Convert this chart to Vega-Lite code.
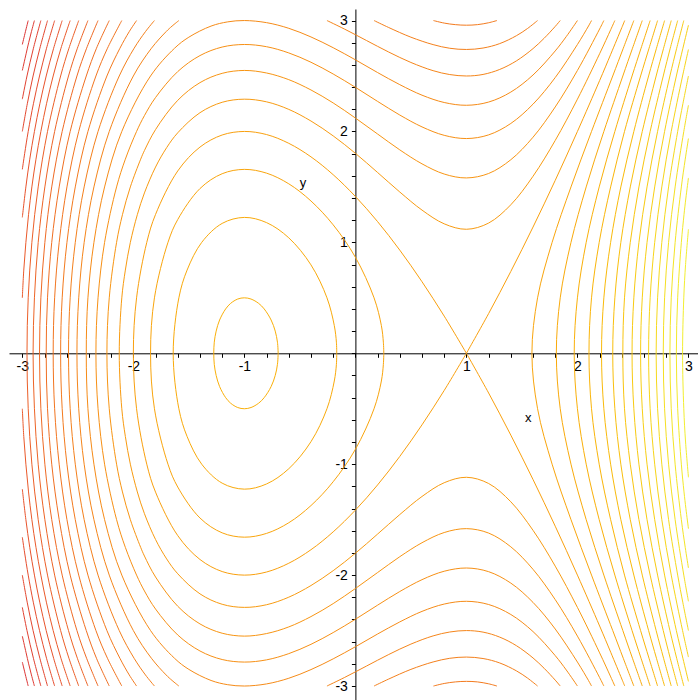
{
"$schema": "https://vega.github.io/schema/vega-lite/v6.json",
"autosize": {"type": "none"},
"width": 689, "height": 691,
"padding": {"left": 9, "top": 9, "right": 0, "bottom": 0},
"background": "white",
"config": {"view": {"stroke": null}, "axis": {"grid": false, "domainColor": "#000", "tickColor": "#000", "labelColor": "#000", "labelFont": "Liberation Sans", "labelFontSize": 14, "tickSize": 4, "zindex": 1, "labelOverlap": false, "labelFlush": false, "labelBound": false, "tickCount": 60}},
"datasets": {
"open": [
{"c":1,"L":-25.75,"x":-3,"y":2.784},{"c":1,"L":-25.75,"x":-2.972,"y":2.9},{"c":1,"L":-25.75,"x":-2.947,"y":3},
{"c":2,"L":-25.75,"x":-3,"y":-2.784},{"c":2,"L":-25.75,"x":-2.972,"y":-2.9},{"c":2,"L":-25.75,"x":-2.947,"y":-3},
{"c":3,"L":-24.5,"x":-3,"y":2.55},{"c":3,"L":-24.5,"x":-2.966,"y":2.7},{"c":3,"L":-24.5,"x":-2.943,"y":2.8},{"c":3,"L":-24.5,"x":-2.918,"y":2.9},{"c":3,"L":-24.5,"x":-2.891,"y":3},
{"c":4,"L":-24.5,"x":-3,"y":-2.55},{"c":4,"L":-24.5,"x":-2.966,"y":-2.7},{"c":4,"L":-24.5,"x":-2.943,"y":-2.8},{"c":4,"L":-24.5,"x":-2.918,"y":-2.9},{"c":4,"L":-24.5,"x":-2.891,"y":-3},
{"c":5,"L":-23.25,"x":-3,"y":2.291},{"c":5,"L":-23.25,"x":-2.958,"y":2.5},{"c":5,"L":-23.25,"x":-2.9,"y":2.75},{"c":5,"L":-23.25,"x":-2.833,"y":3},
{"c":6,"L":-23.25,"x":-3,"y":-2.291},{"c":6,"L":-23.25,"x":-2.958,"y":-2.5},{"c":6,"L":-23.25,"x":-2.9,"y":-2.75},{"c":6,"L":-23.25,"x":-2.833,"y":-3},
{"c":7,"L":-22,"x":-3,"y":2},{"c":7,"L":-22,"x":-2.955,"y":2.25},{"c":7,"L":-22,"x":-2.903,"y":2.5},{"c":7,"L":-22,"x":-2.842,"y":2.75},{"c":7,"L":-22,"x":-2.773,"y":3},
{"c":8,"L":-22,"x":-3,"y":-2},{"c":8,"L":-22,"x":-2.955,"y":-2.25},{"c":8,"L":-22,"x":-2.903,"y":-2.5},{"c":8,"L":-22,"x":-2.842,"y":-2.75},{"c":8,"L":-22,"x":-2.773,"y":-3},
{"c":9,"L":-20.75,"x":-3,"y":1.658},{"c":9,"L":-20.75,"x":-2.979,"y":1.8},{"c":9,"L":-20.75,"x":-2.947,"y":2},{"c":9,"L":-20.75,"x":-2.9,"y":2.25},{"c":9,"L":-20.75,"x":-2.845,"y":2.5},{"c":9,"L":-20.75,"x":-2.782,"y":2.75},{"c":9,"L":-20.75,"x":-2.709,"y":3},
{"c":10,"L":-20.75,"x":-3,"y":-1.658},{"c":10,"L":-20.75,"x":-2.979,"y":-1.8},{"c":10,"L":-20.75,"x":-2.947,"y":-2},{"c":10,"L":-20.75,"x":-2.9,"y":-2.25},{"c":10,"L":-20.75,"x":-2.845,"y":-2.5},{"c":10,"L":-20.75,"x":-2.782,"y":-2.75},{"c":10,"L":-20.75,"x":-2.709,"y":-3},
{"c":11,"L":-19.5,"x":-3,"y":1.225},{"c":11,"L":-19.5,"x":-2.968,"y":1.5},{"c":11,"L":-19.5,"x":-2.933,"y":1.75},{"c":11,"L":-19.5,"x":-2.891,"y":2},{"c":11,"L":-19.5,"x":-2.842,"y":2.25},{"c":11,"L":-19.5,"x":-2.785,"y":2.5},{"c":11,"L":-19.5,"x":-2.718,"y":2.75},{"c":11,"L":-19.5,"x":-2.641,"y":3},
{"c":12,"L":-19.5,"x":-3,"y":-1.225},{"c":12,"L":-19.5,"x":-2.968,"y":-1.5},{"c":12,"L":-19.5,"x":-2.933,"y":-1.75},{"c":12,"L":-19.5,"x":-2.891,"y":-2},{"c":12,"L":-19.5,"x":-2.842,"y":-2.25},{"c":12,"L":-19.5,"x":-2.785,"y":-2.5},{"c":12,"L":-19.5,"x":-2.718,"y":-2.75},{"c":12,"L":-19.5,"x":-2.641,"y":-3},
{"c":13,"L":-18.25,"x":-3,"y":0.5},{"c":13,"L":-18.25,"x":-2.987,"y":0.75},{"c":13,"L":-18.25,"x":-2.968,"y":1},{"c":13,"L":-18.25,"x":-2.944,"y":1.25},{"c":13,"L":-18.25,"x":-2.914,"y":1.5},{"c":13,"L":-18.25,"x":-2.877,"y":1.75},{"c":13,"L":-18.25,"x":-2.833,"y":2},{"c":13,"L":-18.25,"x":-2.782,"y":2.25},{"c":13,"L":-18.25,"x":-2.722,"y":2.5},{"c":13,"L":-18.25,"x":-2.652,"y":2.75},{"c":13,"L":-18.25,"x":-2.569,"y":3},
{"c":14,"L":-18.25,"x":-3,"y":-0.5},{"c":14,"L":-18.25,"x":-2.987,"y":-0.75},{"c":14,"L":-18.25,"x":-2.968,"y":-1},{"c":14,"L":-18.25,"x":-2.944,"y":-1.25},{"c":14,"L":-18.25,"x":-2.914,"y":-1.5},{"c":14,"L":-18.25,"x":-2.877,"y":-1.75},{"c":14,"L":-18.25,"x":-2.833,"y":-2},{"c":14,"L":-18.25,"x":-2.782,"y":-2.25},{"c":14,"L":-18.25,"x":-2.722,"y":-2.5},{"c":14,"L":-18.25,"x":-2.652,"y":-2.75},{"c":14,"L":-18.25,"x":-2.569,"y":-3},
{"c":15,"L":-17,"x":-2.492,"y":-3},{"c":15,"L":-17,"x":-2.58,"y":-2.75},{"c":15,"L":-17,"x":-2.655,"y":-2.5},{"c":15,"L":-17,"x":-2.773,"y":-2},{"c":15,"L":-17,"x":-2.857,"y":-1.5},{"c":15,"L":-17,"x":-2.914,"y":-1},{"c":15,"L":-17,"x":-2.947,"y":-0.5},{"c":15,"L":-17,"x":-2.958,"y":0},{"c":15,"L":-17,"x":-2.947,"y":0.5},{"c":15,"L":-17,"x":-2.914,"y":1},{"c":15,"L":-17,"x":-2.857,"y":1.5},{"c":15,"L":-17,"x":-2.773,"y":2},{"c":15,"L":-17,"x":-2.655,"y":2.5},{"c":15,"L":-17,"x":-2.58,"y":2.75},{"c":15,"L":-17,"x":-2.492,"y":3},
{"c":16,"L":-15.75,"x":-2.409,"y":-3},{"c":16,"L":-15.75,"x":-2.504,"y":-2.75},{"c":16,"L":-15.75,"x":-2.584,"y":-2.5},{"c":16,"L":-15.75,"x":-2.709,"y":-2},{"c":16,"L":-15.75,"x":-2.797,"y":-1.5},{"c":16,"L":-15.75,"x":-2.857,"y":-1},{"c":16,"L":-15.75,"x":-2.891,"y":-0.5},{"c":16,"L":-15.75,"x":-2.903,"y":0},{"c":16,"L":-15.75,"x":-2.891,"y":0.5},{"c":16,"L":-15.75,"x":-2.857,"y":1},{"c":16,"L":-15.75,"x":-2.797,"y":1.5},{"c":16,"L":-15.75,"x":-2.709,"y":2},{"c":16,"L":-15.75,"x":-2.584,"y":2.5},{"c":16,"L":-15.75,"x":-2.504,"y":2.75},{"c":16,"L":-15.75,"x":-2.409,"y":3},
{"c":17,"L":-14.5,"x":-2.318,"y":-3},{"c":17,"L":-14.5,"x":-2.421,"y":-2.75},{"c":17,"L":-14.5,"x":-2.508,"y":-2.5},{"c":17,"L":-14.5,"x":-2.641,"y":-2},{"c":17,"L":-14.5,"x":-2.735,"y":-1.5},{"c":17,"L":-14.5,"x":-2.797,"y":-1},{"c":17,"L":-14.5,"x":-2.833,"y":-0.5},{"c":17,"L":-14.5,"x":-2.845,"y":0},{"c":17,"L":-14.5,"x":-2.833,"y":0.5},{"c":17,"L":-14.5,"x":-2.797,"y":1},{"c":17,"L":-14.5,"x":-2.735,"y":1.5},{"c":17,"L":-14.5,"x":-2.641,"y":2},{"c":17,"L":-14.5,"x":-2.508,"y":2.5},{"c":17,"L":-14.5,"x":-2.421,"y":2.75},{"c":17,"L":-14.5,"x":-2.318,"y":3},
{"c":18,"L":-13.25,"x":-2.217,"y":-3},{"c":18,"L":-13.25,"x":-2.332,"y":-2.75},{"c":18,"L":-13.25,"x":-2.424,"y":-2.5},{"c":18,"L":-13.25,"x":-2.569,"y":-2},{"c":18,"L":-13.25,"x":-2.668,"y":-1.5},{"c":18,"L":-13.25,"x":-2.735,"y":-1},{"c":18,"L":-13.25,"x":-2.773,"y":-0.5},{"c":18,"L":-13.25,"x":-2.785,"y":0},{"c":18,"L":-13.25,"x":-2.773,"y":0.5},{"c":18,"L":-13.25,"x":-2.735,"y":1},{"c":18,"L":-13.25,"x":-2.668,"y":1.5},{"c":18,"L":-13.25,"x":-2.569,"y":2},{"c":18,"L":-13.25,"x":-2.424,"y":2.5},{"c":18,"L":-13.25,"x":-2.332,"y":2.75},{"c":18,"L":-13.25,"x":-2.217,"y":3},
{"c":19,"L":-12,"x":-2.104,"y":-3},{"c":19,"L":-12,"x":-2.233,"y":-2.75},{"c":19,"L":-12,"x":-2.337,"y":-2.5},{"c":19,"L":-12,"x":-2.492,"y":-2},{"c":19,"L":-12,"x":-2.598,"y":-1.5},{"c":19,"L":-12,"x":-2.668,"y":-1},{"c":19,"L":-12,"x":-2.709,"y":-0.5},{"c":19,"L":-12,"x":-2.722,"y":0},{"c":19,"L":-12,"x":-2.709,"y":0.5},{"c":19,"L":-12,"x":-2.668,"y":1},{"c":19,"L":-12,"x":-2.598,"y":1.5},{"c":19,"L":-12,"x":-2.492,"y":2},{"c":19,"L":-12,"x":-2.337,"y":2.5},{"c":19,"L":-12,"x":-2.233,"y":2.75},{"c":19,"L":-12,"x":-2.104,"y":3},
{"c":20,"L":-10.75,"x":-1.971,"y":-3},{"c":20,"L":-10.75,"x":-2.037,"y":-2.9},{"c":20,"L":-10.75,"x":-2.121,"y":-2.75},{"c":20,"L":-10.75,"x":-2.238,"y":-2.5},{"c":20,"L":-10.75,"x":-2.409,"y":-2},{"c":20,"L":-10.75,"x":-2.523,"y":-1.5},{"c":20,"L":-10.75,"x":-2.598,"y":-1},{"c":20,"L":-10.75,"x":-2.641,"y":-0.5},{"c":20,"L":-10.75,"x":-2.655,"y":0},{"c":20,"L":-10.75,"x":-2.641,"y":0.5},{"c":20,"L":-10.75,"x":-2.598,"y":1},{"c":20,"L":-10.75,"x":-2.523,"y":1.5},{"c":20,"L":-10.75,"x":-2.409,"y":2},{"c":20,"L":-10.75,"x":-2.238,"y":2.5},{"c":20,"L":-10.75,"x":-2.121,"y":2.75},{"c":20,"L":-10.75,"x":-2.037,"y":2.9},{"c":20,"L":-10.75,"x":-1.971,"y":3},
{"c":21,"L":-10.75,"x":0.703,"y":3},{"c":21,"L":-10.75,"x":0.8,"y":2.977},{"c":21,"L":-10.75,"x":0.9,"y":2.963},{"c":21,"L":-10.75,"x":1,"y":2.958},{"c":21,"L":-10.75,"x":1.1,"y":2.963},{"c":21,"L":-10.75,"x":1.2,"y":2.98},{"c":21,"L":-10.75,"x":1.275,"y":3},
{"c":22,"L":-10.75,"x":0.703,"y":-3},{"c":22,"L":-10.75,"x":0.8,"y":-2.977},{"c":22,"L":-10.75,"x":0.9,"y":-2.963},{"c":22,"L":-10.75,"x":1,"y":-2.958},{"c":22,"L":-10.75,"x":1.1,"y":-2.963},{"c":22,"L":-10.75,"x":1.2,"y":-2.98},{"c":22,"L":-10.75,"x":1.275,"y":-3},
{"c":23,"L":-9.5,"x":-1.81,"y":-3},{"c":23,"L":-9.5,"x":-1.891,"y":-2.9},{"c":23,"L":-9.5,"x":-1.993,"y":-2.75},{"c":23,"L":-9.5,"x":-2.127,"y":-2.5},{"c":23,"L":-9.5,"x":-2.318,"y":-2},{"c":23,"L":-9.5,"x":-2.443,"y":-1.5},{"c":23,"L":-9.5,"x":-2.523,"y":-1},{"c":23,"L":-9.5,"x":-2.569,"y":-0.5},{"c":23,"L":-9.5,"x":-2.584,"y":0},{"c":23,"L":-9.5,"x":-2.569,"y":0.5},{"c":23,"L":-9.5,"x":-2.523,"y":1},{"c":23,"L":-9.5,"x":-2.443,"y":1.5},{"c":23,"L":-9.5,"x":-2.318,"y":2},{"c":23,"L":-9.5,"x":-2.127,"y":2.5},{"c":23,"L":-9.5,"x":-1.993,"y":2.75},{"c":23,"L":-9.5,"x":-1.891,"y":2.9},{"c":23,"L":-9.5,"x":-1.81,"y":3},
{"c":24,"L":-9.5,"x":0.168,"y":3},{"c":24,"L":-9.5,"x":0.3,"y":2.937},{"c":24,"L":-9.5,"x":0.5,"y":2.85},{"c":24,"L":-9.5,"x":0.7,"y":2.783},{"c":24,"L":-9.5,"x":0.85,"y":2.75},{"c":24,"L":-9.5,"x":1,"y":2.739},{"c":24,"L":-9.5,"x":1.15,"y":2.752},{"c":24,"L":-9.5,"x":1.3,"y":2.792},{"c":24,"L":-9.5,"x":1.45,"y":2.863},{"c":24,"L":-9.5,"x":1.55,"y":2.928},{"c":24,"L":-9.5,"x":1.641,"y":3},
{"c":25,"L":-9.5,"x":0.168,"y":-3},{"c":25,"L":-9.5,"x":0.3,"y":-2.937},{"c":25,"L":-9.5,"x":0.5,"y":-2.85},{"c":25,"L":-9.5,"x":0.7,"y":-2.783},{"c":25,"L":-9.5,"x":0.85,"y":-2.75},{"c":25,"L":-9.5,"x":1,"y":-2.739},{"c":25,"L":-9.5,"x":1.15,"y":-2.752},{"c":25,"L":-9.5,"x":1.3,"y":-2.792},{"c":25,"L":-9.5,"x":1.45,"y":-2.863},{"c":25,"L":-9.5,"x":1.55,"y":-2.928},{"c":25,"L":-9.5,"x":1.641,"y":-3},
{"c":26,"L":-8.25,"x":-1.59,"y":-3},{"c":26,"L":-8.25,"x":-1.651,"y":-2.95},{"c":26,"L":-8.25,"x":-1.705,"y":-2.9},{"c":26,"L":-8.25,"x":-1.837,"y":-2.75},{"c":26,"L":-8.25,"x":-2,"y":-2.5},{"c":26,"L":-8.25,"x":-2.217,"y":-2},{"c":26,"L":-8.25,"x":-2.355,"y":-1.5},{"c":26,"L":-8.25,"x":-2.443,"y":-1},{"c":26,"L":-8.25,"x":-2.492,"y":-0.5},{"c":26,"L":-8.25,"x":-2.508,"y":0},{"c":26,"L":-8.25,"x":-2.492,"y":0.5},{"c":26,"L":-8.25,"x":-2.443,"y":1},{"c":26,"L":-8.25,"x":-2.355,"y":1.5},{"c":26,"L":-8.25,"x":-2.217,"y":2},{"c":26,"L":-8.25,"x":-2,"y":2.5},{"c":26,"L":-8.25,"x":-1.837,"y":2.75},{"c":26,"L":-8.25,"x":-1.705,"y":2.9},{"c":26,"L":-8.25,"x":-1.651,"y":2.95},{"c":26,"L":-8.25,"x":-1.59,"y":3},
{"c":27,"L":-8.25,"x":-0.256,"y":3},{"c":27,"L":-8.25,"x":-0.1,"y":2.924},{"c":27,"L":-8.25,"x":0.1,"y":2.82},{"c":27,"L":-8.25,"x":0.3,"y":2.716},{"c":27,"L":-8.25,"x":0.5,"y":2.622},{"c":27,"L":-8.25,"x":0.7,"y":2.548},{"c":27,"L":-8.25,"x":0.85,"y":2.513},{"c":27,"L":-8.25,"x":1,"y":2.5},{"c":27,"L":-8.25,"x":1.15,"y":2.514},{"c":27,"L":-8.25,"x":1.3,"y":2.559},{"c":27,"L":-8.25,"x":1.45,"y":2.636},{"c":27,"L":-8.25,"x":1.6,"y":2.747},{"c":27,"L":-8.25,"x":1.7,"y":2.84},{"c":27,"L":-8.25,"x":1.8,"y":2.947},{"c":27,"L":-8.25,"x":1.845,"y":3},
{"c":28,"L":-8.25,"x":-0.256,"y":-3},{"c":28,"L":-8.25,"x":-0.1,"y":-2.924},{"c":28,"L":-8.25,"x":0.1,"y":-2.82},{"c":28,"L":-8.25,"x":0.3,"y":-2.716},{"c":28,"L":-8.25,"x":0.5,"y":-2.622},{"c":28,"L":-8.25,"x":0.7,"y":-2.548},{"c":28,"L":-8.25,"x":0.85,"y":-2.513},{"c":28,"L":-8.25,"x":1,"y":-2.5},{"c":28,"L":-8.25,"x":1.15,"y":-2.514},{"c":28,"L":-8.25,"x":1.3,"y":-2.559},{"c":28,"L":-8.25,"x":1.45,"y":-2.636},{"c":28,"L":-8.25,"x":1.6,"y":-2.747},{"c":28,"L":-8.25,"x":1.7,"y":-2.84},{"c":28,"L":-8.25,"x":1.8,"y":-2.947},{"c":28,"L":-8.25,"x":1.845,"y":-3},
{"c":29,"L":-7,"x":2,"y":3},{"c":29,"L":-7,"x":1.9,"y":2.856},{"c":29,"L":-7,"x":1.8,"y":2.726},{"c":29,"L":-7,"x":1.6,"y":2.509},{"c":29,"L":-7,"x":1.4,"y":2.355},{"c":29,"L":-7,"x":1.2,"y":2.265},{"c":29,"L":-7,"x":1,"y":2.236},{"c":29,"L":-7,"x":0.8,"y":2.261},{"c":29,"L":-7,"x":0.6,"y":2.327},{"c":29,"L":-7,"x":0.4,"y":2.422},{"c":29,"L":-7,"x":0.2,"y":2.531},{"c":29,"L":-7,"x":0,"y":2.646},{"c":29,"L":-7,"x":-0.2,"y":2.755},{"c":29,"L":-7,"x":-0.4,"y":2.852},{"c":29,"L":-7,"x":-0.6,"y":2.93},{"c":29,"L":-7,"x":-0.8,"y":2.981},{"c":29,"L":-7,"x":-1,"y":3},{"c":29,"L":-7,"x":-1.15,"y":2.988},{"c":29,"L":-7,"x":-1.3,"y":2.95},{"c":29,"L":-7,"x":-1.5,"y":2.85},{"c":29,"L":-7,"x":-1.629,"y":2.75},{"c":29,"L":-7,"x":-1.845,"y":2.5},{"c":29,"L":-7,"x":-2.104,"y":2},{"c":29,"L":-7,"x":-2.259,"y":1.5},{"c":29,"L":-7,"x":-2.355,"y":1},{"c":29,"L":-7,"x":-2.409,"y":0.5},{"c":29,"L":-7,"x":-2.424,"y":0},{"c":29,"L":-7,"x":-2.409,"y":-0.5},{"c":29,"L":-7,"x":-2.355,"y":-1},{"c":29,"L":-7,"x":-2.259,"y":-1.5},{"c":29,"L":-7,"x":-2.104,"y":-2},{"c":29,"L":-7,"x":-1.845,"y":-2.5},{"c":29,"L":-7,"x":-1.629,"y":-2.75},{"c":29,"L":-7,"x":-1.5,"y":-2.85},{"c":29,"L":-7,"x":-1.3,"y":-2.95},{"c":29,"L":-7,"x":-1.15,"y":-2.988},{"c":29,"L":-7,"x":-1,"y":-3},{"c":29,"L":-7,"x":-0.8,"y":-2.981},{"c":29,"L":-7,"x":-0.6,"y":-2.93},{"c":29,"L":-7,"x":-0.4,"y":-2.852},{"c":29,"L":-7,"x":-0.2,"y":-2.755},{"c":29,"L":-7,"x":0,"y":-2.646},{"c":29,"L":-7,"x":0.2,"y":-2.531},{"c":29,"L":-7,"x":0.4,"y":-2.422},{"c":29,"L":-7,"x":0.6,"y":-2.327},{"c":29,"L":-7,"x":0.8,"y":-2.261},{"c":29,"L":-7,"x":1,"y":-2.236},{"c":29,"L":-7,"x":1.2,"y":-2.265},{"c":29,"L":-7,"x":1.4,"y":-2.355},{"c":29,"L":-7,"x":1.6,"y":-2.509},{"c":29,"L":-7,"x":1.8,"y":-2.726},{"c":29,"L":-7,"x":1.9,"y":-2.856},{"c":29,"L":-7,"x":2,"y":-3},
{"c":30,"L":-5.75,"x":2.127,"y":3},{"c":30,"L":-5.75,"x":2.1,"y":2.951},{"c":30,"L":-5.75,"x":2,"y":2.784},{"c":30,"L":-5.75,"x":1.8,"y":2.486},{"c":30,"L":-5.75,"x":1.6,"y":2.246},{"c":30,"L":-5.75,"x":1.4,"y":2.072},{"c":30,"L":-5.75,"x":1.2,"y":1.969},{"c":30,"L":-5.75,"x":1,"y":1.936},{"c":30,"L":-5.75,"x":0.8,"y":1.965},{"c":30,"L":-5.75,"x":0.6,"y":2.041},{"c":30,"L":-5.75,"x":0.4,"y":2.148},{"c":30,"L":-5.75,"x":0.2,"y":2.271},{"c":30,"L":-5.75,"x":0,"y":2.398},{"c":30,"L":-5.75,"x":-0.2,"y":2.518},{"c":30,"L":-5.75,"x":-0.4,"y":2.624},{"c":30,"L":-5.75,"x":-0.6,"y":2.708},{"c":30,"L":-5.75,"x":-0.8,"y":2.764},{"c":30,"L":-5.75,"x":-1,"y":2.784},{"c":30,"L":-5.75,"x":-1.2,"y":2.761},{"c":30,"L":-5.75,"x":-1.4,"y":2.684},{"c":30,"L":-5.75,"x":-1.6,"y":2.54},{"c":30,"L":-5.75,"x":-1.8,"y":2.306},{"c":30,"L":-5.75,"x":-1.9,"y":2.143},{"c":30,"L":-5.75,"x":-1.971,"y":2},{"c":30,"L":-5.75,"x":-2.072,"y":1.75},{"c":30,"L":-5.75,"x":-2.151,"y":1.5},{"c":30,"L":-5.75,"x":-2.259,"y":1},{"c":30,"L":-5.75,"x":-2.318,"y":0.5},{"c":30,"L":-5.75,"x":-2.337,"y":0},{"c":30,"L":-5.75,"x":-2.318,"y":-0.5},{"c":30,"L":-5.75,"x":-2.259,"y":-1},{"c":30,"L":-5.75,"x":-2.151,"y":-1.5},{"c":30,"L":-5.75,"x":-2.072,"y":-1.75},{"c":30,"L":-5.75,"x":-1.971,"y":-2},{"c":30,"L":-5.75,"x":-1.9,"y":-2.143},{"c":30,"L":-5.75,"x":-1.8,"y":-2.306},{"c":30,"L":-5.75,"x":-1.6,"y":-2.54},{"c":30,"L":-5.75,"x":-1.4,"y":-2.684},{"c":30,"L":-5.75,"x":-1.2,"y":-2.761},{"c":30,"L":-5.75,"x":-1,"y":-2.784},{"c":30,"L":-5.75,"x":-0.8,"y":-2.764},{"c":30,"L":-5.75,"x":-0.6,"y":-2.708},{"c":30,"L":-5.75,"x":-0.4,"y":-2.624},{"c":30,"L":-5.75,"x":-0.2,"y":-2.518},{"c":30,"L":-5.75,"x":0,"y":-2.398},{"c":30,"L":-5.75,"x":0.2,"y":-2.271},{"c":30,"L":-5.75,"x":0.4,"y":-2.148},{"c":30,"L":-5.75,"x":0.6,"y":-2.041},{"c":30,"L":-5.75,"x":0.8,"y":-1.965},{"c":30,"L":-5.75,"x":1,"y":-1.936},{"c":30,"L":-5.75,"x":1.2,"y":-1.969},{"c":30,"L":-5.75,"x":1.4,"y":-2.072},{"c":30,"L":-5.75,"x":1.6,"y":-2.246},{"c":30,"L":-5.75,"x":1.8,"y":-2.486},{"c":30,"L":-5.75,"x":2,"y":-2.784},{"c":30,"L":-5.75,"x":2.1,"y":-2.951},{"c":30,"L":-5.75,"x":2.127,"y":-3},
{"c":31,"L":-4.5,"x":2.238,"y":3},{"c":31,"L":-4.5,"x":2.2,"y":2.924},{"c":31,"L":-4.5,"x":2,"y":2.55},{"c":31,"L":-4.5,"x":1.8,"y":2.221},{"c":31,"L":-4.5,"x":1.6,"y":1.948},{"c":31,"L":-4.5,"x":1.4,"y":1.745},{"c":31,"L":-4.5,"x":1.2,"y":1.621},{"c":31,"L":-4.5,"x":1,"y":1.581},{"c":31,"L":-4.5,"x":0.8,"y":1.616},{"c":31,"L":-4.5,"x":0.6,"y":1.708},{"c":31,"L":-4.5,"x":0.4,"y":1.834},{"c":31,"L":-4.5,"x":0.2,"y":1.977},{"c":31,"L":-4.5,"x":0,"y":2.121},{"c":31,"L":-4.5,"x":-0.2,"y":2.257},{"c":31,"L":-4.5,"x":-0.4,"y":2.374},{"c":31,"L":-4.5,"x":-0.6,"y":2.467},{"c":31,"L":-4.5,"x":-0.8,"y":2.527},{"c":31,"L":-4.5,"x":-1,"y":2.55},{"c":31,"L":-4.5,"x":-1.2,"y":2.524},{"c":31,"L":-4.5,"x":-1.4,"y":2.44},{"c":31,"L":-4.5,"x":-1.6,"y":2.281},{"c":31,"L":-4.5,"x":-1.8,"y":2.017},{"c":31,"L":-4.5,"x":-1.9,"y":1.828},{"c":31,"L":-4.5,"x":-1.934,"y":1.75},{"c":31,"L":-4.5,"x":-2.027,"y":1.5},{"c":31,"L":-4.5,"x":-2.098,"y":1.25},{"c":31,"L":-4.5,"x":-2.151,"y":1},{"c":31,"L":-4.5,"x":-2.217,"y":0.5},{"c":31,"L":-4.5,"x":-2.238,"y":0},{"c":31,"L":-4.5,"x":-2.217,"y":-0.5},{"c":31,"L":-4.5,"x":-2.151,"y":-1},{"c":31,"L":-4.5,"x":-2.098,"y":-1.25},{"c":31,"L":-4.5,"x":-2.027,"y":-1.5},{"c":31,"L":-4.5,"x":-1.934,"y":-1.75},{"c":31,"L":-4.5,"x":-1.9,"y":-1.828},{"c":31,"L":-4.5,"x":-1.8,"y":-2.017},{"c":31,"L":-4.5,"x":-1.6,"y":-2.281},{"c":31,"L":-4.5,"x":-1.4,"y":-2.44},{"c":31,"L":-4.5,"x":-1.2,"y":-2.524},{"c":31,"L":-4.5,"x":-1,"y":-2.55},{"c":31,"L":-4.5,"x":-0.8,"y":-2.527},{"c":31,"L":-4.5,"x":-0.6,"y":-2.467},{"c":31,"L":-4.5,"x":-0.4,"y":-2.374},{"c":31,"L":-4.5,"x":-0.2,"y":-2.257},{"c":31,"L":-4.5,"x":0,"y":-2.121},{"c":31,"L":-4.5,"x":0.2,"y":-1.977},{"c":31,"L":-4.5,"x":0.4,"y":-1.834},{"c":31,"L":-4.5,"x":0.6,"y":-1.708},{"c":31,"L":-4.5,"x":0.8,"y":-1.616},{"c":31,"L":-4.5,"x":1,"y":-1.581},{"c":31,"L":-4.5,"x":1.2,"y":-1.621},{"c":31,"L":-4.5,"x":1.4,"y":-1.745},{"c":31,"L":-4.5,"x":1.6,"y":-1.948},{"c":31,"L":-4.5,"x":1.8,"y":-2.221},{"c":31,"L":-4.5,"x":2,"y":-2.55},{"c":31,"L":-4.5,"x":2.2,"y":-2.924},{"c":31,"L":-4.5,"x":2.238,"y":-3},
{"c":32,"L":-3.25,"x":2.337,"y":3},{"c":32,"L":-3.25,"x":2.3,"y":2.918},{"c":32,"L":-3.25,"x":2.2,"y":2.701},{"c":32,"L":-3.25,"x":2,"y":2.291},{"c":32,"L":-3.25,"x":1.8,"y":1.919},{"c":32,"L":-3.25,"x":1.6,"y":1.596},{"c":32,"L":-3.25,"x":1.4,"y":1.339},{"c":32,"L":-3.25,"x":1.2,"y":1.174},{"c":32,"L":-3.25,"x":1,"y":1.118},{"c":32,"L":-3.25,"x":0.8,"y":1.167},{"c":32,"L":-3.25,"x":0.6,"y":1.291},{"c":32,"L":-3.25,"x":0.4,"y":1.454},{"c":32,"L":-3.25,"x":0.2,"y":1.63},{"c":32,"L":-3.25,"x":0,"y":1.803},{"c":32,"L":-3.25,"x":-0.2,"y":1.96},{"c":32,"L":-3.25,"x":-0.4,"y":2.094},{"c":32,"L":-3.25,"x":-0.6,"y":2.199},{"c":32,"L":-3.25,"x":-0.8,"y":2.267},{"c":32,"L":-3.25,"x":-1,"y":2.291},{"c":32,"L":-3.25,"x":-1.2,"y":2.263},{"c":32,"L":-3.25,"x":-1.4,"y":2.169},{"c":32,"L":-3.25,"x":-1.6,"y":1.988},{"c":32,"L":-3.25,"x":-1.7,"y":1.854},{"c":32,"L":-3.25,"x":-1.8,"y":1.679},{"c":32,"L":-3.25,"x":-1.9,"y":1.446},{"c":32,"L":-3.25,"x":-1.964,"y":1.25},{"c":32,"L":-3.25,"x":-2.027,"y":1},{"c":32,"L":-3.25,"x":-2.072,"y":0.75},{"c":32,"L":-3.25,"x":-2.104,"y":0.5},{"c":32,"L":-3.25,"x":-2.127,"y":0},{"c":32,"L":-3.25,"x":-2.104,"y":-0.5},{"c":32,"L":-3.25,"x":-2.072,"y":-0.75},{"c":32,"L":-3.25,"x":-2.027,"y":-1},{"c":32,"L":-3.25,"x":-1.964,"y":-1.25},{"c":32,"L":-3.25,"x":-1.9,"y":-1.446},{"c":32,"L":-3.25,"x":-1.8,"y":-1.679},{"c":32,"L":-3.25,"x":-1.7,"y":-1.854},{"c":32,"L":-3.25,"x":-1.6,"y":-1.988},{"c":32,"L":-3.25,"x":-1.4,"y":-2.169},{"c":32,"L":-3.25,"x":-1.2,"y":-2.263},{"c":32,"L":-3.25,"x":-1,"y":-2.291},{"c":32,"L":-3.25,"x":-0.8,"y":-2.267},{"c":32,"L":-3.25,"x":-0.6,"y":-2.199},{"c":32,"L":-3.25,"x":-0.4,"y":-2.094},{"c":32,"L":-3.25,"x":-0.2,"y":-1.96},{"c":32,"L":-3.25,"x":0,"y":-1.803},{"c":32,"L":-3.25,"x":0.2,"y":-1.63},{"c":32,"L":-3.25,"x":0.4,"y":-1.454},{"c":32,"L":-3.25,"x":0.6,"y":-1.291},{"c":32,"L":-3.25,"x":0.8,"y":-1.167},{"c":32,"L":-3.25,"x":1,"y":-1.118},{"c":32,"L":-3.25,"x":1.2,"y":-1.174},{"c":32,"L":-3.25,"x":1.4,"y":-1.339},{"c":32,"L":-3.25,"x":1.6,"y":-1.596},{"c":32,"L":-3.25,"x":1.8,"y":-1.919},{"c":32,"L":-3.25,"x":2,"y":-2.291},{"c":32,"L":-3.25,"x":2.2,"y":-2.701},{"c":32,"L":-3.25,"x":2.3,"y":-2.918},{"c":32,"L":-3.25,"x":2.337,"y":-3},
{"c":33,"L":-2,"x":1,"y":0},{"c":33,"L":-2,"x":1.2,"y":0.358},{"c":33,"L":-2,"x":1.4,"y":0.738},{"c":33,"L":-2,"x":1.6,"y":1.138},{"c":33,"L":-2,"x":1.8,"y":1.559},{"c":33,"L":-2,"x":2,"y":2},{"c":33,"L":-2,"x":2.2,"y":2.459},{"c":33,"L":-2,"x":2.3,"y":2.696},{"c":33,"L":-2,"x":2.4,"y":2.937},{"c":33,"L":-2,"x":2.426,"y":3},
{"c":35,"L":-2,"x":1,"y":0},{"c":35,"L":-2,"x":1.2,"y":-0.358},{"c":35,"L":-2,"x":1.4,"y":-0.738},{"c":35,"L":-2,"x":1.6,"y":-1.138},{"c":35,"L":-2,"x":1.8,"y":-1.559},{"c":35,"L":-2,"x":2,"y":-2},{"c":35,"L":-2,"x":2.2,"y":-2.459},{"c":35,"L":-2,"x":2.3,"y":-2.696},{"c":35,"L":-2,"x":2.4,"y":-2.937},{"c":35,"L":-2,"x":2.426,"y":-3},
{"c":34,"L":-2,"x":1,"y":0},{"c":34,"L":-2,"x":0.8,"y":0.335},{"c":34,"L":-2,"x":0.6,"y":0.645},{"c":34,"L":-2,"x":0.4,"y":0.93},{"c":34,"L":-2,"x":0.2,"y":1.187},{"c":34,"L":-2,"x":0,"y":1.414},{"c":34,"L":-2,"x":-0.2,"y":1.61},{"c":34,"L":-2,"x":-0.4,"y":1.771},{"c":34,"L":-2,"x":-0.6,"y":1.893},{"c":34,"L":-2,"x":-0.8,"y":1.972},{"c":34,"L":-2,"x":-1,"y":2},{"c":34,"L":-2,"x":-1.2,"y":1.968},{"c":34,"L":-2,"x":-1.4,"y":1.859},{"c":34,"L":-2,"x":-1.6,"y":1.644},{"c":34,"L":-2,"x":-1.8,"y":1.252},{"c":34,"L":-2,"x":-1.879,"y":1},{"c":34,"L":-2,"x":-1.971,"y":0.5},{"c":34,"L":-2,"x":-2,"y":0},{"c":34,"L":-2,"x":-1.971,"y":-0.5},{"c":34,"L":-2,"x":-1.879,"y":-1},{"c":34,"L":-2,"x":-1.8,"y":-1.252},{"c":34,"L":-2,"x":-1.6,"y":-1.644},{"c":34,"L":-2,"x":-1.4,"y":-1.859},{"c":34,"L":-2,"x":-1.2,"y":-1.968},{"c":34,"L":-2,"x":-1,"y":-2},{"c":34,"L":-2,"x":-0.8,"y":-1.972},{"c":34,"L":-2,"x":-0.6,"y":-1.893},{"c":34,"L":-2,"x":-0.4,"y":-1.771},{"c":34,"L":-2,"x":-0.2,"y":-1.61},{"c":34,"L":-2,"x":0,"y":-1.414},{"c":34,"L":-2,"x":0.2,"y":-1.187},{"c":34,"L":-2,"x":0.4,"y":-0.93},{"c":34,"L":-2,"x":0.6,"y":-0.645},{"c":34,"L":-2,"x":0.8,"y":-0.335},{"c":34,"L":-2,"x":1,"y":0},
{"c":36,"L":-0.75,"x":0.256,"y":0},{"c":36,"L":-0.75,"x":0.252,"y":0.1},{"c":36,"L":-0.75,"x":0.234,"y":0.25},{"c":36,"L":-0.75,"x":0.168,"y":0.5},{"c":36,"L":-0.75,"x":0,"y":0.866},{"c":36,"L":-0.75,"x":-0.2,"y":1.158},{"c":36,"L":-0.75,"x":-0.4,"y":1.373},{"c":36,"L":-0.75,"x":-0.6,"y":1.528},{"c":36,"L":-0.75,"x":-0.8,"y":1.624},{"c":36,"L":-0.75,"x":-1,"y":1.658},{"c":36,"L":-0.75,"x":-1.2,"y":1.619},{"c":36,"L":-0.75,"x":-1.4,"y":1.485},{"c":36,"L":-0.75,"x":-1.6,"y":1.206},{"c":36,"L":-0.75,"x":-1.688,"y":1},{"c":36,"L":-0.75,"x":-1.81,"y":0.5},{"c":36,"L":-0.75,"x":-1.845,"y":0},{"c":36,"L":-0.75,"x":-1.81,"y":-0.5},{"c":36,"L":-0.75,"x":-1.688,"y":-1},{"c":36,"L":-0.75,"x":-1.6,"y":-1.206},{"c":36,"L":-0.75,"x":-1.4,"y":-1.485},{"c":36,"L":-0.75,"x":-1.2,"y":-1.619},{"c":36,"L":-0.75,"x":-1,"y":-1.658},{"c":36,"L":-0.75,"x":-0.8,"y":-1.624},{"c":36,"L":-0.75,"x":-0.6,"y":-1.528},{"c":36,"L":-0.75,"x":-0.4,"y":-1.373},{"c":36,"L":-0.75,"x":-0.2,"y":-1.158},{"c":36,"L":-0.75,"x":0,"y":-0.866},{"c":36,"L":-0.75,"x":0.168,"y":-0.5},{"c":36,"L":-0.75,"x":0.234,"y":-0.25},{"c":36,"L":-0.75,"x":0.252,"y":-0.1},{"c":36,"L":-0.75,"x":0.256,"y":0},
{"c":38,"L":0.5,"x":-0.168,"y":0},{"c":38,"L":0.5,"x":-0.171,"y":0.1},{"c":38,"L":0.5,"x":-0.19,"y":0.25},{"c":38,"L":0.5,"x":-0.256,"y":0.5},{"c":38,"L":0.5,"x":-0.4,"y":0.797},{"c":38,"L":0.5,"x":-0.6,"y":1.041},{"c":38,"L":0.5,"x":-0.8,"y":1.178},{"c":38,"L":0.5,"x":-1,"y":1.225},{"c":38,"L":0.5,"x":-1.2,"y":1.171},{"c":38,"L":0.5,"x":-1.384,"y":1},{"c":38,"L":0.5,"x":-1.516,"y":0.75},{"c":38,"L":0.5,"x":-1.59,"y":0.5},{"c":38,"L":0.5,"x":-1.641,"y":0},{"c":38,"L":0.5,"x":-1.59,"y":-0.5},{"c":38,"L":0.5,"x":-1.516,"y":-0.75},{"c":38,"L":0.5,"x":-1.384,"y":-1},{"c":38,"L":0.5,"x":-1.2,"y":-1.171},{"c":38,"L":0.5,"x":-1,"y":-1.225},{"c":38,"L":0.5,"x":-0.8,"y":-1.178},{"c":38,"L":0.5,"x":-0.6,"y":-1.041},{"c":38,"L":0.5,"x":-0.4,"y":-0.797},{"c":38,"L":0.5,"x":-0.256,"y":-0.5},{"c":38,"L":0.5,"x":-0.19,"y":-0.25},{"c":38,"L":0.5,"x":-0.171,"y":-0.1},{"c":38,"L":0.5,"x":-0.168,"y":0},
{"c":40,"L":1.75,"x":-0.6955,"y":0},{"c":40,"L":1.75,"x":-0.702,"y":0.1},{"c":40,"L":1.75,"x":-0.722,"y":0.2},{"c":40,"L":1.75,"x":-0.759,"y":0.3},{"c":40,"L":1.75,"x":-0.8215,"y":0.4},{"c":40,"L":1.75,"x":-0.8715,"y":0.45},{"c":40,"L":1.75,"x":-0.94,"y":0.489},{"c":40,"L":1.75,"x":-1,"y":0.5},{"c":40,"L":1.75,"x":-1.06,"y":0.489},{"c":40,"L":1.75,"x":-1.1235,"y":0.45},{"c":40,"L":1.75,"x":-1.1685,"y":0.4},{"c":40,"L":1.75,"x":-1.223,"y":0.3},{"c":40,"L":1.75,"x":-1.254,"y":0.2},{"c":40,"L":1.75,"x":-1.271,"y":0.1},{"c":40,"L":1.75,"x":-1.2755,"y":0},{"c":40,"L":1.75,"x":-1.271,"y":-0.1},{"c":40,"L":1.75,"x":-1.254,"y":-0.2},{"c":40,"L":1.75,"x":-1.223,"y":-0.3},{"c":40,"L":1.75,"x":-1.1685,"y":-0.4},{"c":40,"L":1.75,"x":-1.1235,"y":-0.45},{"c":40,"L":1.75,"x":-1.06,"y":-0.489},{"c":40,"L":1.75,"x":-1,"y":-0.5},{"c":40,"L":1.75,"x":-0.94,"y":-0.489},{"c":40,"L":1.75,"x":-0.8715,"y":-0.45},{"c":40,"L":1.75,"x":-0.8215,"y":-0.4},{"c":40,"L":1.75,"x":-0.759,"y":-0.3},{"c":40,"L":1.75,"x":-0.722,"y":-0.2},{"c":40,"L":1.75,"x":-0.702,"y":-0.1},{"c":40,"L":1.75,"x":-0.6955,"y":0},
{"c":37,"L":-0.75,"x":2.508,"y":-3},{"c":37,"L":-0.75,"x":2.413,"y":-2.75},{"c":37,"L":-0.75,"x":2.318,"y":-2.5},{"c":37,"L":-0.75,"x":2.127,"y":-2},{"c":37,"L":-0.75,"x":1.942,"y":-1.5},{"c":37,"L":-0.75,"x":1.772,"y":-1},{"c":37,"L":-0.75,"x":1.641,"y":-0.5},{"c":37,"L":-0.75,"x":1.59,"y":0},{"c":37,"L":-0.75,"x":1.641,"y":0.5},{"c":37,"L":-0.75,"x":1.772,"y":1},{"c":37,"L":-0.75,"x":1.942,"y":1.5},{"c":37,"L":-0.75,"x":2.127,"y":2},{"c":37,"L":-0.75,"x":2.318,"y":2.5},{"c":37,"L":-0.75,"x":2.413,"y":2.75},{"c":37,"L":-0.75,"x":2.508,"y":3},
{"c":39,"L":0.5,"x":2.584,"y":-3},{"c":39,"L":0.5,"x":2.496,"y":-2.75},{"c":39,"L":0.5,"x":2.409,"y":-2.5},{"c":39,"L":0.5,"x":2.238,"y":-2},{"c":39,"L":0.5,"x":2.079,"y":-1.5},{"c":39,"L":0.5,"x":1.942,"y":-1},{"c":39,"L":0.5,"x":1.845,"y":-0.5},{"c":39,"L":0.5,"x":1.81,"y":0},{"c":39,"L":0.5,"x":1.845,"y":0.5},{"c":39,"L":0.5,"x":1.942,"y":1},{"c":39,"L":0.5,"x":2.079,"y":1.5},{"c":39,"L":0.5,"x":2.238,"y":2},{"c":39,"L":0.5,"x":2.409,"y":2.5},{"c":39,"L":0.5,"x":2.496,"y":2.75},{"c":39,"L":0.5,"x":2.584,"y":3},
{"c":41,"L":1.75,"x":2.655,"y":-3},{"c":41,"L":1.75,"x":2.573,"y":-2.75},{"c":41,"L":1.75,"x":2.492,"y":-2.5},{"c":41,"L":1.75,"x":2.337,"y":-2},{"c":41,"L":1.75,"x":2.196,"y":-1.5},{"c":41,"L":1.75,"x":2.079,"y":-1},{"c":41,"L":1.75,"x":2,"y":-0.5},{"c":41,"L":1.75,"x":1.971,"y":0},{"c":41,"L":1.75,"x":2,"y":0.5},{"c":41,"L":1.75,"x":2.079,"y":1},{"c":41,"L":1.75,"x":2.196,"y":1.5},{"c":41,"L":1.75,"x":2.337,"y":2},{"c":41,"L":1.75,"x":2.492,"y":2.5},{"c":41,"L":1.75,"x":2.573,"y":2.75},{"c":41,"L":1.75,"x":2.655,"y":3},
{"c":42,"L":3,"x":2.722,"y":-3},{"c":42,"L":3,"x":2.645,"y":-2.75},{"c":42,"L":3,"x":2.569,"y":-2.5},{"c":42,"L":3,"x":2.424,"y":-2},{"c":42,"L":3,"x":2.299,"y":-1.5},{"c":42,"L":3,"x":2.196,"y":-1},{"c":42,"L":3,"x":2.127,"y":-0.5},{"c":42,"L":3,"x":2.104,"y":0},{"c":42,"L":3,"x":2.127,"y":0.5},{"c":42,"L":3,"x":2.196,"y":1},{"c":42,"L":3,"x":2.299,"y":1.5},{"c":42,"L":3,"x":2.424,"y":2},{"c":42,"L":3,"x":2.569,"y":2.5},{"c":42,"L":3,"x":2.645,"y":2.75},{"c":42,"L":3,"x":2.722,"y":3},
{"c":43,"L":4.25,"x":2.785,"y":-3},{"c":43,"L":4.25,"x":2.712,"y":-2.75},{"c":43,"L":4.25,"x":2.641,"y":-2.5},{"c":43,"L":4.25,"x":2.508,"y":-2},{"c":43,"L":4.25,"x":2.391,"y":-1.5},{"c":43,"L":4.25,"x":2.299,"y":-1},{"c":43,"L":4.25,"x":2.238,"y":-0.5},{"c":43,"L":4.25,"x":2.217,"y":0},{"c":43,"L":4.25,"x":2.238,"y":0.5},{"c":43,"L":4.25,"x":2.299,"y":1},{"c":43,"L":4.25,"x":2.391,"y":1.5},{"c":43,"L":4.25,"x":2.508,"y":2},{"c":43,"L":4.25,"x":2.641,"y":2.5},{"c":43,"L":4.25,"x":2.712,"y":2.75},{"c":43,"L":4.25,"x":2.785,"y":3},
{"c":44,"L":5.5,"x":2.845,"y":-3},{"c":44,"L":5.5,"x":2.776,"y":-2.75},{"c":44,"L":5.5,"x":2.709,"y":-2.5},{"c":44,"L":5.5,"x":2.584,"y":-2},{"c":44,"L":5.5,"x":2.476,"y":-1.5},{"c":44,"L":5.5,"x":2.391,"y":-1},{"c":44,"L":5.5,"x":2.337,"y":-0.5},{"c":44,"L":5.5,"x":2.318,"y":0},{"c":44,"L":5.5,"x":2.337,"y":0.5},{"c":44,"L":5.5,"x":2.391,"y":1},{"c":44,"L":5.5,"x":2.476,"y":1.5},{"c":44,"L":5.5,"x":2.584,"y":2},{"c":44,"L":5.5,"x":2.709,"y":2.5},{"c":44,"L":5.5,"x":2.776,"y":2.75},{"c":44,"L":5.5,"x":2.845,"y":3},
{"c":45,"L":6.75,"x":2.903,"y":-3},{"c":45,"L":6.75,"x":2.836,"y":-2.75},{"c":45,"L":6.75,"x":2.773,"y":-2.5},{"c":45,"L":6.75,"x":2.655,"y":-2},{"c":45,"L":6.75,"x":2.554,"y":-1.5},{"c":45,"L":6.75,"x":2.476,"y":-1},{"c":45,"L":6.75,"x":2.424,"y":-0.5},{"c":45,"L":6.75,"x":2.409,"y":0},{"c":45,"L":6.75,"x":2.424,"y":0.5},{"c":45,"L":6.75,"x":2.476,"y":1},{"c":45,"L":6.75,"x":2.554,"y":1.5},{"c":45,"L":6.75,"x":2.655,"y":2},{"c":45,"L":6.75,"x":2.773,"y":2.5},{"c":45,"L":6.75,"x":2.836,"y":2.75},{"c":45,"L":6.75,"x":2.903,"y":3},
{"c":46,"L":8,"x":2.958,"y":-3},{"c":46,"L":8,"x":2.894,"y":-2.75},{"c":46,"L":8,"x":2.833,"y":-2.5},{"c":46,"L":8,"x":2.722,"y":-2},{"c":46,"L":8,"x":2.627,"y":-1.5},{"c":46,"L":8,"x":2.554,"y":-1},{"c":46,"L":8,"x":2.508,"y":-0.5},{"c":46,"L":8,"x":2.492,"y":0},{"c":46,"L":8,"x":2.508,"y":0.5},{"c":46,"L":8,"x":2.554,"y":1},{"c":46,"L":8,"x":2.627,"y":1.5},{"c":46,"L":8,"x":2.722,"y":2},{"c":46,"L":8,"x":2.833,"y":2.5},{"c":46,"L":8,"x":2.894,"y":2.75},{"c":46,"L":8,"x":2.958,"y":3},
{"c":47,"L":9.25,"x":3,"y":-2.958},{"c":47,"L":9.25,"x":2.95,"y":-2.75},{"c":47,"L":9.25,"x":2.891,"y":-2.5},{"c":47,"L":9.25,"x":2.785,"y":-2},{"c":47,"L":9.25,"x":2.696,"y":-1.5},{"c":47,"L":9.25,"x":2.627,"y":-1},{"c":47,"L":9.25,"x":2.584,"y":-0.5},{"c":47,"L":9.25,"x":2.569,"y":0},{"c":47,"L":9.25,"x":2.584,"y":0.5},{"c":47,"L":9.25,"x":2.627,"y":1},{"c":47,"L":9.25,"x":2.696,"y":1.5},{"c":47,"L":9.25,"x":2.785,"y":2},{"c":47,"L":9.25,"x":2.891,"y":2.5},{"c":47,"L":9.25,"x":2.95,"y":2.75},{"c":47,"L":9.25,"x":3,"y":2.958},
{"c":48,"L":10.5,"x":3,"y":-2.739},{"c":48,"L":10.5,"x":2.947,"y":-2.5},{"c":48,"L":10.5,"x":2.845,"y":-2},{"c":48,"L":10.5,"x":2.76,"y":-1.5},{"c":48,"L":10.5,"x":2.696,"y":-1},{"c":48,"L":10.5,"x":2.655,"y":-0.5},{"c":48,"L":10.5,"x":2.641,"y":0},{"c":48,"L":10.5,"x":2.655,"y":0.5},{"c":48,"L":10.5,"x":2.696,"y":1},{"c":48,"L":10.5,"x":2.76,"y":1.5},{"c":48,"L":10.5,"x":2.845,"y":2},{"c":48,"L":10.5,"x":2.947,"y":2.5},{"c":48,"L":10.5,"x":3,"y":2.739},
{"c":49,"L":11.75,"x":3,"y":-2.5},{"c":49,"L":11.75,"x":2.95,"y":-2.25},{"c":49,"L":11.75,"x":2.903,"y":-2},{"c":49,"L":11.75,"x":2.821,"y":-1.5},{"c":49,"L":11.75,"x":2.76,"y":-1},{"c":49,"L":11.75,"x":2.722,"y":-0.5},{"c":49,"L":11.75,"x":2.709,"y":0},{"c":49,"L":11.75,"x":2.722,"y":0.5},{"c":49,"L":11.75,"x":2.76,"y":1},{"c":49,"L":11.75,"x":2.821,"y":1.5},{"c":49,"L":11.75,"x":2.903,"y":2},{"c":49,"L":11.75,"x":2.95,"y":2.25},{"c":49,"L":11.75,"x":3,"y":2.5},
{"c":50,"L":13,"x":3,"y":-2.236},{"c":50,"L":13,"x":2.958,"y":-2},{"c":50,"L":13,"x":2.88,"y":-1.5},{"c":50,"L":13,"x":2.821,"y":-1},{"c":50,"L":13,"x":2.785,"y":-0.5},{"c":50,"L":13,"x":2.773,"y":0},{"c":50,"L":13,"x":2.785,"y":0.5},{"c":50,"L":13,"x":2.821,"y":1},{"c":50,"L":13,"x":2.88,"y":1.5},{"c":50,"L":13,"x":2.958,"y":2},{"c":50,"L":13,"x":3,"y":2.236},
{"c":51,"L":14.25,"x":3,"y":-1.936},{"c":51,"L":14.25,"x":2.971,"y":-1.75},{"c":51,"L":14.25,"x":2.936,"y":-1.5},{"c":51,"L":14.25,"x":2.88,"y":-1},{"c":51,"L":14.25,"x":2.845,"y":-0.5},{"c":51,"L":14.25,"x":2.833,"y":0},{"c":51,"L":14.25,"x":2.845,"y":0.5},{"c":51,"L":14.25,"x":2.88,"y":1},{"c":51,"L":14.25,"x":2.936,"y":1.5},{"c":51,"L":14.25,"x":2.971,"y":1.75},{"c":51,"L":14.25,"x":3,"y":1.936},
{"c":52,"L":15.5,"x":3,"y":-1.581},{"c":52,"L":15.5,"x":2.977,"y":-1.4},{"c":52,"L":15.5,"x":2.96,"y":-1.25},{"c":52,"L":15.5,"x":2.936,"y":-1},{"c":52,"L":15.5,"x":2.903,"y":-0.5},{"c":52,"L":15.5,"x":2.891,"y":0},{"c":52,"L":15.5,"x":2.903,"y":0.5},{"c":52,"L":15.5,"x":2.936,"y":1},{"c":52,"L":15.5,"x":2.96,"y":1.25},{"c":52,"L":15.5,"x":2.977,"y":1.4},{"c":52,"L":15.5,"x":3,"y":1.581},
{"c":53,"L":16.75,"x":3,"y":-1.118},{"c":53,"L":16.75,"x":2.974,"y":-0.8},{"c":53,"L":16.75,"x":2.958,"y":-0.5},{"c":53,"L":16.75,"x":2.947,"y":0},{"c":53,"L":16.75,"x":2.958,"y":0.5},{"c":53,"L":16.75,"x":2.974,"y":0.8},{"c":53,"L":16.75,"x":3,"y":1.118}
],
"labels": [{"t":"x","x":1.556,"y":-0.58},{"t":"y","x":-0.471,"y":1.536}]
},
"layer": [
{"data": {"name": "open"},
 "mark": {"type": "line", "interpolate": "catmull-rom", "strokeWidth": 1},
 "encoding": {
  "x": {"field": "x", "type": "quantitative", "title": null,
        "scale": {"domain": [-3.12, 3.086], "nice": false, "zero": false},
        "axis": {"values": [-3,-2.8,-2.6,-2.4,-2.2,-2,-1.8,-1.6,-1.4,-1.2,-1,-0.8,-0.6,-0.4,-0.2,0,0.2,0.4,0.6,0.8,1,1.2,1.4,1.6,1.8,2,2.2,2.4,2.6,2.8,3],
                 "tickCount": 60,
                 "labelExpr": "(abs(datum.value - round(datum.value)) < 0.001 && datum.value != 0) ? '' + round(datum.value) : ''",
                 "offset": -346.7, "labelPadding": 2, "labelFlush": false, "labelOverlap": false, "labelBound": false}},
  "y": {"field": "y", "type": "quantitative", "title": null,
        "scale": {"domain": [-3.126, 3.104], "nice": false, "zero": false},
        "axis": {"values": [-3,-2.8,-2.6,-2.4,-2.2,-2,-1.8,-1.6,-1.4,-1.2,-1,-0.8,-0.6,-0.4,-0.2,0,0.2,0.4,0.6,0.8,1,1.2,1.4,1.6,1.8,2,2.2,2.4,2.6,2.8,3],
                 "tickCount": 60,
                 "labelExpr": "(abs(datum.value - round(datum.value)) < 0.001 && datum.value != 0) ? '' + round(datum.value) : ''",
                 "offset": -346.4, "labelPadding": 4, "labelFlush": false, "labelOverlap": false, "labelBound": false}},
  "detail": {"field": "c", "type": "nominal"},
  "color": {"field": "L", "type": "quantitative", "scale": {"domain": [-25.75, 16.75], "range": ["#dc3434", "#f2ee30"]}, "legend": null},
  "order": {"value": null}
 }},
{"data": {"name": "labels"},
 "mark": {"type": "text", "font": "Liberation Sans", "fontSize": 13, "color": "#000"},
 "encoding": {
  "x": {"field": "x", "type": "quantitative", "title": null},
  "y": {"field": "y", "type": "quantitative", "title": null},
  "text": {"field": "t", "type": "nominal"}
 }}
]
}
